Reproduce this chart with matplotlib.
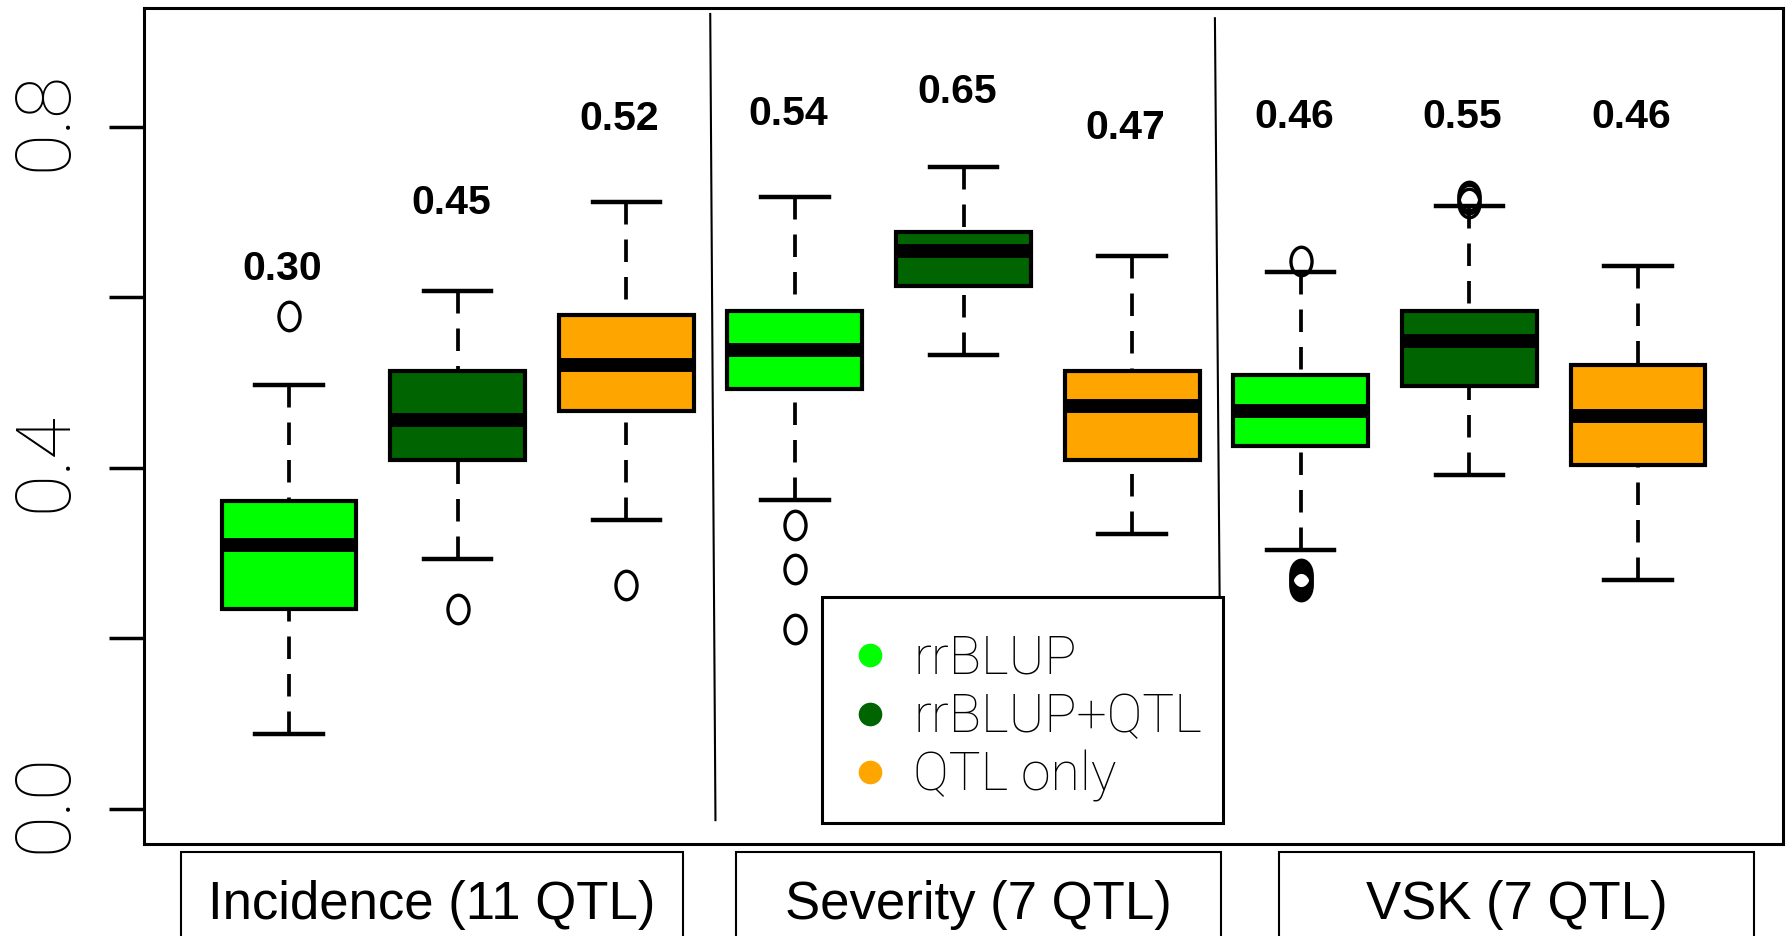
import numpy as np
import matplotlib
matplotlib.use("Agg")
import matplotlib.pyplot as plt
from matplotlib.path import Path
from matplotlib.patches import Rectangle
from matplotlib.lines import Line2D
from matplotlib.transforms import Affine2D, ScaledTranslation

# prediction accuracy of three models for three traits
traits = ["Incidence (11 QTL)", "Severity (7 QTL)", "VSK (7 QTL)"]
models = ["rrBLUP", "rrBLUP+QTL", "QTL only"]
model_colors = ["#00FF00", "#006400", "#FFA500"]

# box statistics, trait by trait, model by model
whislo = [0.088, 0.293, 0.339, 0.362, 0.532, 0.322, 0.304, 0.391, 0.269]
q1 = [0.234, 0.409, 0.467, 0.492, 0.613, 0.409, 0.426, 0.496, 0.403]
med = [0.310, 0.456, 0.520, 0.538, 0.654, 0.473, 0.467, 0.549, 0.461]
q3 = [0.361, 0.514, 0.579, 0.584, 0.677, 0.514, 0.509, 0.584, 0.520]
whishi = [0.497, 0.607, 0.712, 0.718, 0.753, 0.648, 0.630, 0.707, 0.636]
fliers = [
    [0.578],
    [0.234],
    [0.263],
    [0.333, 0.281, 0.211],
    [],
    [],
    [0.643, 0.276, 0.272, 0.268, 0.265, 0.262],
    [0.711, 0.715, 0.719],
    [],
]
mean_acc = [0.30, 0.45, 0.52, 0.54, 0.65, 0.47, 0.46, 0.55, 0.46]

# where the mean labels sit
label_y = [0.633, 0.710, 0.809, 0.815, 0.841, 0.798, 0.811, 0.811, 0.811]

W, H = 1788, 936
fig = plt.figure(figsize=(W / 100, H / 100), dpi=100)
ax = fig.add_axes([144 / W, 1 - 843.5 / H, (1783 - 144) / W, (843.5 - 8) / H])

stats = []
for i in range(len(med)):
    stats.append(dict(med=med[i], q1=q1[i], q3=q3[i],
                      whislo=whislo[i], whishi=whishi[i], fliers=fliers[i]))
positions = np.arange(1, len(med) + 1)

# outliers drawn as upright ovals
oval = Path.unit_circle().transformed(Affine2D().scale(0.74, 1.0))

parts = ax.bxp(
    stats, positions=positions, widths=0.8, capwidths=0.4,
    patch_artist=True, manage_ticks=False,
    boxprops=dict(linewidth=3, edgecolor="black"),
    whiskerprops=dict(linewidth=2.7, linestyle=(0, (6, 4)), color="black"),
    capprops=dict(linewidth=3.2, color="black"),
    medianprops=dict(linewidth=10, color="black", solid_capstyle="butt"),
    flierprops=dict(marker=oval, markersize=20.5, markerfacecolor="none",
                    markeredgecolor="black", markeredgewidth=2.4,
                    linestyle="none"),
)
for i, box in enumerate(parts["boxes"]):
    box.set_facecolor(model_colors[i % 3])
    box.set_joinstyle("miter")
# dashes start from the caps
for w in parts["whiskers"]:
    w.set_ydata(w.get_ydata()[::-1])

for x, y, m in zip(positions, label_y, mean_acc):
    ax.text(x - 0.04, y, f"{m:.2f}", ha="center", va="center",
            fontsize=29.5, fontweight="bold", family="Liberation Sans")

# trait separators (the second one stops at the legend)
ax.plot([3.498, 3.529], [0.932, -0.013], color="black", lw=1.5)
ax.plot([6.491, 6.519], [0.927, 0.2485], color="black", lw=1.5)

ax.set_xlim(0.14, 9.86)
ax.set_ylim(-0.0404, 0.939)
ax.set_xticks([])
ax.set_yticks([0, 0.2, 0.4, 0.6, 0.8], ["0.0", "", "0.4", "", "0.8"])
ax.tick_params(axis="y", length=25, width=2.5, pad=20, labelsize=55)
nudge = ScaledTranslation(0, 0.06, fig.dpi_scale_trans)
for lab in ax.get_yticklabels():
    lab.set_rotation(90)
    lab.set_va("center")
    lab.set_family(["Roboto", "DejaVu Sans"])
    lab.set_fontweight("light")
    lab.set_transform(lab.get_transform() + nudge)
for sp in ax.spines.values():
    sp.set_linewidth(2.2)

# legend frame, drawn under the legend entries
lx0, lx1, ly0, ly1 = 822, 1223, 597, 823
ax.add_patch(Rectangle((lx0 / W, 1 - ly1 / H), (lx1 - lx0) / W, (ly1 - ly0) / H,
                       transform=fig.transFigure, facecolor="white",
                       edgecolor="black", linewidth=2.2, zorder=4,
                       clip_on=False))

handles = [Line2D([], [], marker="o", linestyle="none", markersize=16,
                  markerfacecolor=c, markeredgecolor=c) for c in model_colors]
leg = ax.legend(handles, models, loc="upper left",
                bbox_to_anchor=(lx0 / W, 1 - ly0 / H),
                bbox_transform=fig.transFigure, borderaxespad=0,
                borderpad=0.68, labelspacing=0.13, handlelength=0.45,
                handletextpad=0.58, frameon=False,
                prop=dict(family="Roboto", weight="light", size=38.5))
leg.set_zorder(5)

# trait name boxes under the panel
trait_boxes = [(181, 683), (736, 1221), (1279, 1754)]
for (x0, x1), name in zip(trait_boxes, traits):
    fig.add_artist(Rectangle((x0 / W, -0.05), (x1 - x0) / W, 0.05 + (H - 852) / H,
                             transform=fig.transFigure, fill=False,
                             edgecolor="black", linewidth=1.5))
    fig.text((x0 + x1) / 2 / W, (H - 919) / H, name, ha="center",
             va="baseline", fontsize=38, family="Liberation Sans")

fig.savefig("out.png", dpi=100)
